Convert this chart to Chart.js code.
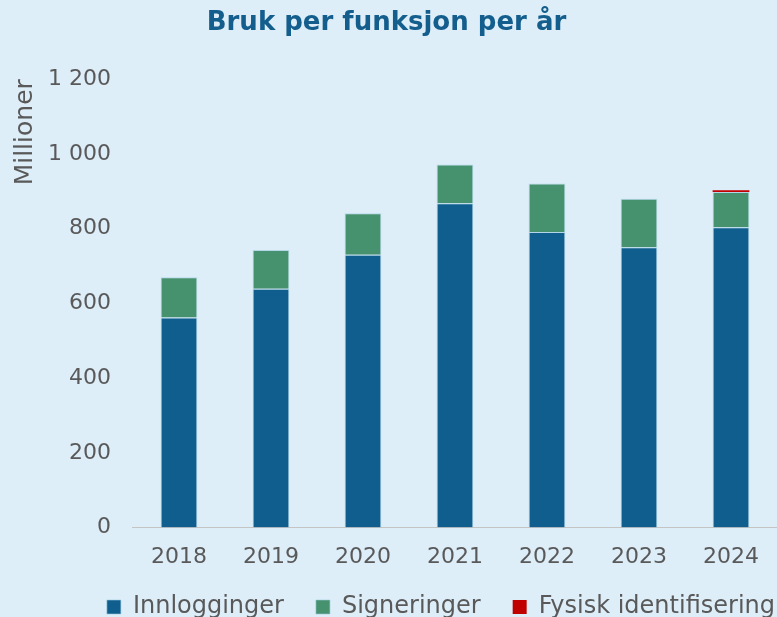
<!DOCTYPE html>
<html>
<head>
<meta charset="utf-8">
<script src="https://cdn.jsdelivr.net/npm/chart.js@4"></script>
<style>
  html, body { margin: 0; padding: 0; background: #deeef9; }
  #wrap { width: 777px; height: 617px; position: relative; }
</style>
</head>
<body>
<div id="wrap"><canvas id="usageChart"></canvas></div>
<script>
const years = ["2018", "2019", "2020", "2021", "2022", "2023", "2024"];
const innlogginger = [562, 639, 730, 868, 791, 750, 804];
const signeringer = [108, 104, 111, 104, 130, 130, 94];
const fysiskIdentifisering = [0, 0, 0, 0, 0, 0, 5];
const yTicks = [0, 200, 400, 600, 800, 1000, 1200];

const textColor = "#595959";
const fontFamily = "'DejaVu Sans', sans-serif";

function formatThousands(v) {
    return String(v).replace(/\B(?=(\d{3})+(?!\d))/g, " ");
}

// legend in the original runs off the right edge a bit
const legendShift = {
    id: "legendShift",
    afterLayout(chart) {
        chart.legend.left += 30;
        chart.legend.right += 30;
    }
};

const ctx = document.getElementById("usageChart").getContext("2d");

new Chart(ctx, {
    type: "bar",
    data: {
        labels: years,
        datasets: [
            { label: "Innlogginger", data: innlogginger, backgroundColor: "#0f5e8e", borderWidth: 1 },
            { label: "Signeringer", data: signeringer, backgroundColor: "#46916e", borderWidth: 1 },
            { label: "Fysisk identifisering", data: fysiskIdentifisering, backgroundColor: "#c00000", borderWidth: 0 }
        ].map(ds => Object.assign(ds, {
            borderColor: "rgba(150, 200, 220, 0.6)",
            categoryPercentage: 1.0,
            barPercentage: 0.4
        }))
    },
    plugins: [legendShift],
    options: {
        responsive: true,
        maintainAspectRatio: false,
        animation: false,
        layout: { padding: { left: -4, right: 0, top: 2, bottom: -12 } },
        plugins: {
            title: {
                display: true,
                text: "Bruk per funksjon per år",
                color: "#135e8c",
                font: { family: fontFamily, size: 26, weight: "bold" },
                padding: { top: 6, bottom: 40 }
            },
            legend: {
                position: "bottom",
                align: "end",
                labels: {
                    color: textColor,
                    font: { family: fontFamily, size: 24 },
                    boxWidth: 14,
                    boxHeight: 14,
                    padding: 32
                }
            },
            tooltip: { enabled: false }
        },
        scales: {
            x: {
                stacked: true,
                grid: { display: false, drawTicks: false },
                border: { display: true, color: "#c4c4c4", width: 1 },
                ticks: {
                    color: textColor,
                    font: { family: fontFamily, size: 22 },
                    padding: 16
                },
                afterFit: scale => { scale.height -= 23; }
            },
            y: {
                stacked: true,
                min: yTicks[0],
                max: yTicks[yTicks.length - 1],
                afterBuildTicks: axis => { axis.ticks = yTicks.map(v => ({ value: v })); },
                grid: { display: false, drawTicks: false },
                border: { display: false },
                ticks: {
                    color: textColor,
                    font: { family: fontFamily, size: 22 },
                    padding: 22,
                    callback: v => formatThousands(v)
                },
                title: {
                    display: true,
                    text: "Millioner",
                    align: "end",
                    color: textColor,
                    font: { family: fontFamily, size: 25 },
                    padding: { top: 14, bottom: -14 }
                }
            }
        }
    }
});
</script>
</body>
</html>
